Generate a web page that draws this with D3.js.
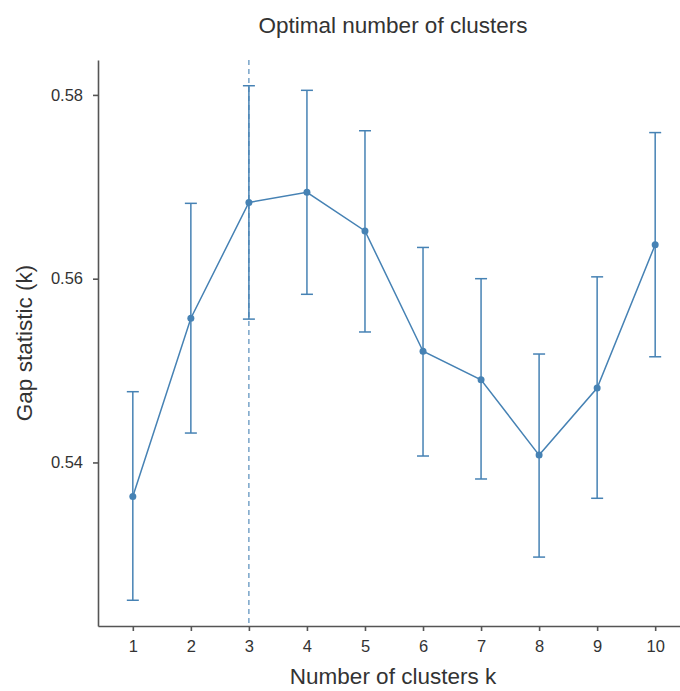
<!DOCTYPE html>
<html>
<head>
<meta charset="utf-8">
<script src="https://cdnjs.cloudflare.com/ajax/libs/d3/7.8.5/d3.min.js"></script>
<style>
  body { margin: 0; background: #fff; }
  text { font-family: "Liberation Sans", Arial, sans-serif; fill: #333; }
</style>
</head>
<body>
<div id="chart"></div>
<script>
// data
var clusters = [1, 2, 3, 4, 5, 6, 7, 8, 9, 10];
var gap      = [0.5363, 0.5557, 0.5683, 0.5694, 0.5652, 0.5521, 0.5490, 0.5408, 0.5481, 0.5637];
var gapLow   = [0.5250, 0.5432, 0.5556, 0.5583, 0.5542, 0.5407, 0.5382, 0.5297, 0.5361, 0.5515];
var gapHigh  = [0.5477, 0.5682, 0.5810, 0.5805, 0.5761, 0.5634, 0.5600, 0.5518, 0.5602, 0.5759];
var yTicks   = [0.54, 0.56, 0.58];
var optimalK = 3;

var width = 680, height = 691;
var margin = { top: 60, right: -10, bottom: 65, left: 98 };
var color = 'steelblue';

var svg = d3.select('#chart').append('svg')
    .attr('width', width)
    .attr('height', height);

var data = clusters.map(function(k, i) {
    return { k: k, y: gap[i], lo: gapLow[i], hi: gapHigh[i] };
});

// discrete x like ggplot (0.6 units of padding each side)
var x = d3.scaleLinear()
    .domain([clusters[0] - 0.6, clusters[clusters.length - 1] + 0.6])
    .range([margin.left, width - margin.right]);

var yMin = d3.min(gapLow), yMax = d3.max(gapHigh);
var pad = (yMax - yMin) * 0.05;
var y = d3.scaleLinear()
    .domain([yMin - pad, yMax + pad])
    .range([height - margin.bottom, margin.top]);

var plot = svg.append('g');

// dashed line at optimal k
plot.append('line')
    .attr('x1', x(optimalK)).attr('x2', x(optimalK))
    .attr('y1', y.range()[1]).attr('y2', y.range()[0])
    .attr('stroke', color)
    .attr('stroke-width', 1.1)
    .attr('stroke-dasharray', '5,4');

// error bars
var bars = plot.selectAll('g.err')
    .data(data)
    .enter().append('g')
    .classed('err', true)
    .attr('stroke', color)
    .attr('stroke-width', 1.5);

bars.append('line')
    .attr('x1', function(d) { return x(d.k); })
    .attr('x2', function(d) { return x(d.k); })
    .attr('y1', function(d) { return y(d.lo); })
    .attr('y2', function(d) { return y(d.hi); });

bars.append('line')
    .attr('x1', function(d) { return x(d.k) - 6; })
    .attr('x2', function(d) { return x(d.k) + 6; })
    .attr('y1', function(d) { return y(d.hi); })
    .attr('y2', function(d) { return y(d.hi); });

bars.append('line')
    .attr('x1', function(d) { return x(d.k) - 6; })
    .attr('x2', function(d) { return x(d.k) + 6; })
    .attr('y1', function(d) { return y(d.lo); })
    .attr('y2', function(d) { return y(d.lo); });

// line + points
var line = d3.line()
    .x(function(d) { return x(d.k); })
    .y(function(d) { return y(d.y); });

plot.append('path')
    .datum(data)
    .attr('fill', 'none')
    .attr('stroke', color)
    .attr('stroke-width', 1.5)
    .attr('d', line);

plot.selectAll('circle.dot')
    .data(data)
    .enter().append('circle')
    .classed('dot', true)
    .attr('cx', function(d) { return x(d.k); })
    .attr('cy', function(d) { return y(d.y); })
    .attr('r', 3.5)
    .attr('fill', color);

// axes
var xAxis = svg.append('g')
    .attr('transform', 'translate(0,' + (height - margin.bottom) + ')')
    .call(d3.axisBottom(x).tickValues(clusters).tickSize(5).tickPadding(9).tickSizeOuter(0));

var yAxis = svg.append('g')
    .attr('transform', 'translate(' + margin.left + ',0)')
    .call(d3.axisLeft(y).tickValues(yTicks).tickFormat(d3.format('.2f')).tickSize(5).tickPadding(10).tickSizeOuter(0));

[xAxis, yAxis].forEach(function(a) {
    a.select('.domain').attr('stroke', '#555').attr('stroke-width', 1.6);
    a.selectAll('.tick line').attr('stroke', '#555').attr('stroke-width', 1.6);
    a.selectAll('.tick text')
        .style('font-family', '"Liberation Sans", Arial, sans-serif')
        .style('font-size', '16.5px')
        .attr('fill', '#333');
});

// titles
svg.append('text')
    .attr('x', 393)
    .attr('y', 33)
    .attr('text-anchor', 'middle')
    .style('font-size', '22.5px')
    .text('Optimal number of clusters');

svg.append('text')
    .attr('x', 393)
    .attr('y', 684)
    .attr('text-anchor', 'middle')
    .style('font-size', '22.5px')
    .text('Number of clusters k');

svg.append('text')
    .attr('transform', 'translate(32,' + ((y.range()[0] + y.range()[1]) / 2) + ') rotate(-90)')
    .attr('text-anchor', 'middle')
    .style('font-size', '22.5px')
    .text('Gap statistic (k)');
</script>
</body>
</html>
